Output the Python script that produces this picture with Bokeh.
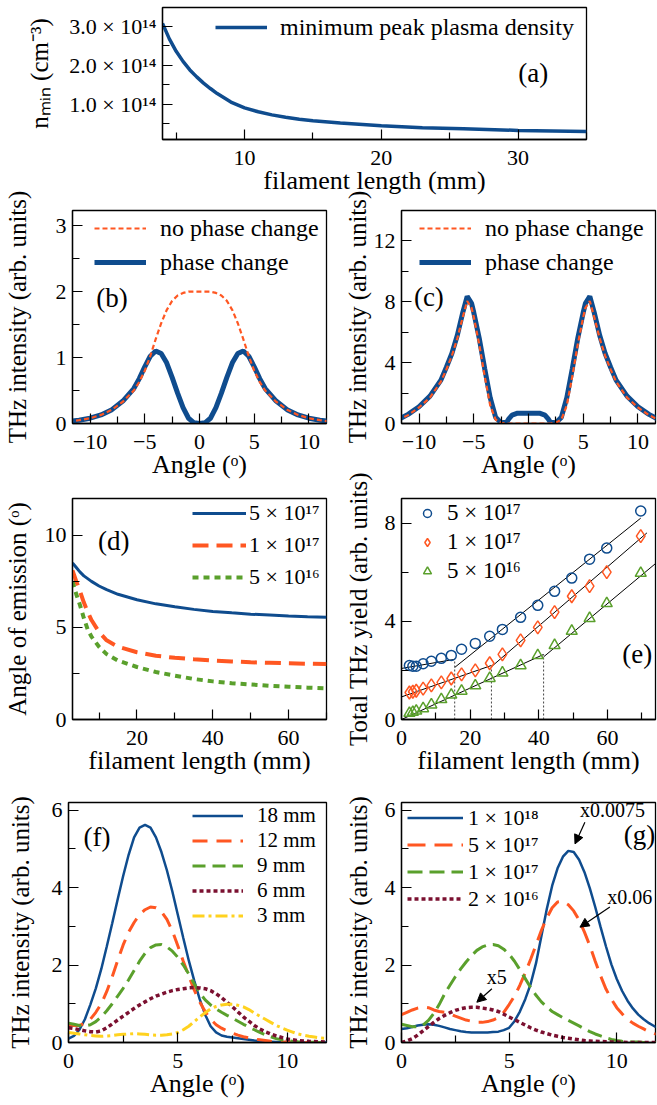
import numpy as np
from bokeh.plotting import figure
from bokeh.layouts import column, row
from bokeh.models import (Range1d, FixedTicker, CustomJSTickFormatter, Legend,
                          LegendItem, Label, Arrow, NormalHead)
from bokeh.embed import file_html
from bokeh.resources import INLINE

FONT = "Liberation Serif"
BLUE = "#0f4c8e"
ORANGE = "#ff5722"
GREEN = "#5aa02c"
MAROON = "#7b1030"
GOLD = "#ffd21f"

# ---------------- data ----------------
# (a) minimum peak plasma density vs filament length
a_length = [4.0, 4.5, 5.0, 5.5, 6.0, 6.5, 7.0, 7.5, 8.0, 9.0, 10, 11, 12, 13, 14,
            15, 17, 20, 23, 26, 30, 35]
a_nmin = [3.08e14, 2.68e14, 2.36e14, 2.10e14, 1.88e14, 1.70e14, 1.54e14, 1.40e14,
          1.27e14, 1.05e14, 0.90e14, 0.80e14, 0.72e14, 0.66e14, 0.61e14, 0.57e14,
          0.51e14, 0.44e14, 0.39e14, 0.36e14, 0.32e14, 0.29e14]

# (b) angular THz distribution
b_angle = [-12, -11, -10, -9, -8, -7, -6, -5.5, -5, -4.5, -4, -3.5, -3, -2.5, -2, -1.5,
           -1, -0.5, 0, 0.5, 1, 1.5, 2, 2.5, 3, 3.5, 4, 4.5, 5, 5.5, 6, 7, 8, 9, 10, 11, 12]
b_no_change = [0.03, 0.05, 0.08, 0.13, 0.21, 0.33, 0.50, 0.63, 0.80, 1.02, 1.28, 1.52,
               1.72, 1.86, 1.94, 1.98, 2.0, 2.0, 2.0, 2.0, 2.0, 1.98, 1.94, 1.86, 1.72,
               1.52, 1.28, 1.02, 0.80, 0.63, 0.50, 0.33, 0.21, 0.13, 0.08, 0.05, 0.03]
b_phase = [0.03, 0.05, 0.08, 0.13, 0.21, 0.34, 0.53, 0.68, 0.86, 1.02, 1.10, 1.06, 0.92,
           0.70, 0.46, 0.24, 0.08, 0.01, 0.0, 0.01, 0.08, 0.24, 0.46, 0.70, 0.92, 1.06,
           1.10, 1.02, 0.86, 0.68, 0.53, 0.34, 0.21, 0.13, 0.08, 0.05, 0.03]

# (c)
c_angle = [-12, -11, -10, -9, -8, -7.5, -7, -6.5, -6, -5.6, -5.2, -5, -4.5, -4, -3.5, -3,
           -2.5, -2, -1.8, -1.5, -1, -0.5, 0, 0.5, 1, 1.5, 1.8, 2, 2.5, 3, 3.5, 4, 4.5,
           5, 5.2, 5.6, 6, 6.5, 7, 7.5, 8, 9, 10, 11, 12]
c_phase = [0.22, 0.6, 1.1, 1.8, 2.85, 3.7, 4.6, 5.8, 7.3, 8.35, 7.9, 7.3, 5.6, 3.6, 1.7,
           0.4, 0.05, 0.08, 0.3, 0.55, 0.68, 0.68, 0.68, 0.68, 0.68, 0.55, 0.3, 0.08,
           0.05, 0.4, 1.7, 3.6, 5.6, 7.3, 7.9, 8.35, 7.3, 5.8, 4.6, 3.7, 2.85, 1.8, 1.1,
           0.6, 0.22]
c_no_change = [0.2, 0.55, 1.05, 1.7, 2.75, 3.55, 4.45, 5.6, 7.0, 8.05, 7.6, 7.0, 5.2,
               3.1, 1.2, 0.25, 0.05, 0.0, 0.0, 0.0, 0.0, 0.0, 0.0, 0.0, 0.0, 0.0, 0.0,
               0.0, 0.05, 0.25, 1.2, 3.1, 5.2, 7.0, 7.6, 8.05, 7.0, 5.6, 4.45, 3.55,
               2.75, 1.7, 1.05, 0.55, 0.2]

# (d) angle of emission vs filament length
d_length = [3, 4, 5, 6, 7, 8, 10, 12, 15, 20, 25, 30, 35, 40, 45, 50, 55, 60, 65, 70]
d_5e17 = [8.5, 8.25, 8.0, 7.8, 7.65, 7.5, 7.25, 7.05, 6.8, 6.5, 6.28, 6.12, 5.98, 5.87,
          5.79, 5.72, 5.67, 5.62, 5.58, 5.55]
d_1e17 = [8.1, 7.5, 6.95, 6.35, 5.85, 5.4, 4.75, 4.3, 3.95, 3.65, 3.46, 3.35, 3.27, 3.2,
          3.15, 3.11, 3.08, 3.05, 3.03, 3.01]
d_5e16 = [7.5, 6.8, 6.2, 5.5, 4.9, 4.5, 3.95, 3.55, 3.2, 2.85, 2.58, 2.38, 2.2, 2.07,
          1.97, 1.9, 1.83, 1.78, 1.73, 1.69]

# (e) total THz yield vs filament length
e_length = [2.3, 3.3, 4.3, 6.3, 8.7, 11.6, 14.5, 17.5, 21.5, 25.7, 29.4, 34.7, 39.7,
            44.6, 49.6, 54.8, 59.8, 69.7]
e_5e17 = [2.2, 2.17, 2.17, 2.27, 2.37, 2.49, 2.61, 2.86, 3.1, 3.39, 3.67, 4.16, 4.65,
          5.22, 5.76, 6.53, 6.98, 8.49]
e_1e17 = [1.1, 1.13, 1.17, 1.26, 1.39, 1.51, 1.67, 1.84, 2.0, 2.29, 2.65, 3.22, 3.75,
          4.37, 5.02, 5.43, 6.0, 7.47]
e_5e16 = [0.26, 0.3, 0.35, 0.45, 0.6, 0.82, 1.0, 1.16, 1.38, 1.68, 1.9, 2.2, 2.61, 3.02,
          3.6, 4.12, 4.73, 5.96]
# piecewise linear fits (x0, y0, x1, y1) and the kink positions
fit_x0 = [0, 15.5, 0, 26.2, 0, 41.4]
fit_y0 = [2.08, 2.12, 0.92, 2.15, 0.0, 2.55]
fit_x1 = [15.5, 69.7, 26.2, 71.5, 41.4, 74]
fit_y1 = [2.45, 8.2, 2.2, 7.6, 2.65, 6.35]
kink_x = [15.5, 26.2, 41.4]
kink_y = [2.45, 2.2, 2.65]

# (f) angular distribution for different filament lengths (angles 0 ... 12 step 0.25)
f_angle = [round(0.25 * i, 2) for i in range(49)]
f_18mm = [0.1, 0.17, 0.33, 0.6, 0.98, 1.4, 1.9, 2.48, 3.08, 3.7, 4.3, 4.85, 5.3, 5.55,
          5.62, 5.55, 5.3, 4.92, 4.45, 3.9, 3.3, 2.7, 2.12, 1.6, 1.12, 0.72, 0.42, 0.26,
          0.18, 0.15, 0.13, 0.11, 0.09, 0.07, 0.05, 0.04, 0.03, 0.02, 0.01, 0.01,
          0, 0, 0, 0, 0, 0, 0, 0, 0]
f_12mm = [0.45, 0.44, 0.44, 0.5, 0.6, 0.78, 1.0, 1.32, 1.7, 2.12, 2.52, 2.85, 3.1, 3.3,
          3.43, 3.5, 3.48, 3.38, 3.18, 2.88, 2.5, 2.1, 1.72, 1.36, 1.05, 0.8, 0.6, 0.46,
          0.37, 0.3, 0.24, 0.19, 0.15, 0.12, 0.09, 0.07, 0.05, 0.03, 0.02, 0.015, 0.01,
          0.005, 0, 0, 0, 0, 0, 0, 0]
f_9mm = [0.5, 0.47, 0.44, 0.43, 0.46, 0.54, 0.66, 0.82, 1.0, 1.2, 1.4, 1.62, 1.86, 2.1,
         2.3, 2.45, 2.52, 2.53, 2.47, 2.36, 2.2, 2.0, 1.77, 1.52, 1.28, 1.1, 0.97, 0.87,
         0.78, 0.7, 0.63, 0.55, 0.47, 0.4, 0.33, 0.26, 0.2, 0.15, 0.1, 0.07, 0.05, 0.03,
         0.02, 0.015, 0.01, 0.005, 0, 0, 0]
f_6mm = [0.38, 0.36, 0.33, 0.3, 0.28, 0.27, 0.3, 0.38, 0.48, 0.58, 0.68, 0.78, 0.88, 0.97,
         1.05, 1.13, 1.2, 1.25, 1.3, 1.34, 1.37, 1.39, 1.41, 1.42, 1.41, 1.39, 1.34, 1.26,
         1.16, 1.04, 0.92, 0.79, 0.66, 0.55, 0.44, 0.35, 0.28, 0.22, 0.17, 0.13, 0.09,
         0.07, 0.05, 0.04, 0.03, 0.025, 0.02, 0.015, 0.01]
f_3mm = [0.26, 0.24, 0.22, 0.2, 0.18, 0.17, 0.16, 0.17, 0.18, 0.2, 0.21, 0.22, 0.23, 0.22,
         0.21, 0.2, 0.19, 0.19, 0.2, 0.22, 0.26, 0.33, 0.42, 0.54, 0.66, 0.77, 0.87, 0.93,
         0.97, 0.99, 0.99, 0.96, 0.92, 0.85, 0.76, 0.68, 0.6, 0.52, 0.44, 0.38, 0.32,
         0.27, 0.22, 0.19, 0.16, 0.14, 0.12, 0.11, 0.1]

# (g) angular distribution for different densities (scaled curves)
g_angle = [round(0.25 * i, 2) for i in range(49)]
g_1e18 = [0.35, 0.37, 0.4, 0.44, 0.46, 0.47, 0.46, 0.43, 0.39, 0.35, 0.32, 0.29, 0.27,
          0.26, 0.26, 0.26, 0.26, 0.27, 0.28, 0.32, 0.38, 0.55, 0.8, 1.12, 1.51, 2.05,
          2.75, 3.45, 4.05, 4.5, 4.8, 4.95, 4.92, 4.72, 4.4, 3.98, 3.5, 2.98, 2.48, 2.02,
          1.64, 1.33, 1.08, 0.88, 0.72, 0.6, 0.5, 0.42, 0.36]
g_5e17 = [0.72, 0.78, 0.84, 0.89, 0.92, 0.9, 0.84, 0.8, 0.78, 0.74, 0.68, 0.63, 0.58,
          0.55, 0.52, 0.52, 0.54, 0.58, 0.64, 0.78, 0.98, 1.2, 1.48, 1.8, 2.15, 2.52, 2.9,
          3.22, 3.48, 3.63, 3.65, 3.56, 3.4, 3.16, 2.85, 2.5, 2.1, 1.72, 1.38, 1.12, 0.9,
          0.74, 0.6, 0.5, 0.42, 0.35, 0.28, 0.23, 0.2]
g_1e17 = [0.47, 0.44, 0.41, 0.41, 0.45, 0.57, 0.75, 0.98, 1.25, 1.48, 1.7, 1.9, 2.08,
          2.24, 2.38, 2.47, 2.52, 2.53, 2.5, 2.41, 2.28, 2.1, 1.88, 1.65, 1.42, 1.22, 1.05,
          0.92, 0.8, 0.72, 0.64, 0.57, 0.5, 0.43, 0.35, 0.28, 0.22, 0.17, 0.12, 0.08,
          0.05, 0.03, 0.02, 0.01, 0.01, 0, 0, 0, 0]
g_2e16 = [0.0, 0.04, 0.1, 0.19, 0.3, 0.41, 0.52, 0.62, 0.7, 0.77, 0.83, 0.87, 0.9, 0.91,
          0.91, 0.89, 0.87, 0.84, 0.8, 0.73, 0.66, 0.59, 0.52, 0.45, 0.38, 0.32, 0.27,
          0.23, 0.19, 0.16, 0.13, 0.11, 0.09, 0.07, 0.05, 0.04, 0.03, 0.025, 0.02, 0.015,
          0.01, 0.005, 0, 0, 0, 0, 0, 0, 0]

DEG = "Angle (\u1d52)"
FL = "filament length (mm)"
THZ = "THz intensity (arb. units)"


def make_fig(w, h, xr, yr, bl, br, bt, bb, xt, xmt, yt, ymt, xlabel, ylabel, yals,
             xfmt=None, yfmt=None):
    p = figure(width=w, height=h, x_range=Range1d(*xr), y_range=Range1d(*yr),
               output_backend="svg", toolbar_location=None,
               min_border_left=bl, min_border_right=br, min_border_top=bt,
               min_border_bottom=bb)
    p.xgrid.visible = False
    p.ygrid.visible = False
    p.outline_line_color = "black"
    p.outline_line_width = 1.3
    p.outline_line_alpha = 1
    p.background_fill_color = "white"
    p.border_fill_alpha = 0
    for ax, ticks, mticks, label, als, fmt, lsize, std in (
            (p.xaxis[0], xt, xmt, xlabel, -2, xfmt, "26px", 11),
            (p.yaxis[0], yt, ymt, ylabel, yals, yfmt, "25px", 6)):
        ax.ticker = FixedTicker(ticks=ticks, minor_ticks=mticks)
        if fmt is not None:
            ax.formatter = fmt
        ax.axis_label = label
        ax.axis_label_text_font = FONT
        ax.axis_label_text_font_size = lsize
        ax.axis_label_text_font_style = "normal"
        ax.axis_label_text_color = "black"
        ax.axis_label_standoff = als
        ax.major_label_text_font = FONT
        ax.major_label_text_font_size = "22px"
        ax.major_label_text_color = "black"
        ax.major_label_standoff = std
        ax.major_tick_in = 10
        ax.major_tick_out = 0
        ax.minor_tick_in = 7
        ax.minor_tick_out = 0
        ax.axis_line_color = "black"
        ax.axis_line_width = 1.3
        ax.major_tick_line_color = "black"
        ax.minor_tick_line_color = "black"
        ax.major_tick_line_width = 1.2
        ax.minor_tick_line_width = 1.2
    return p


def add_legend(p, items, loc, fsize, gw, standoff, ih, spacing):
    leg = Legend(items=items, location=loc)
    leg.label_text_font = FONT
    leg.label_text_font_size = fsize
    leg.label_text_color = "black"
    leg.glyph_width = gw
    leg.glyph_height = ih
    leg.label_height = ih
    leg.label_standoff = standoff
    leg.spacing = spacing
    leg.padding = 0
    leg.margin = 0
    leg.background_fill_alpha = 0
    leg.border_line_alpha = 0
    p.add_layout(leg)


def panel_label(p, x, y, text, size="27px"):
    p.add_layout(Label(x=x, y=y, text=text, text_font=FONT, text_font_size=size,
                       text_align="center", text_baseline="middle", text_color="black"))


minus_fmt = CustomJSTickFormatter(code="return tick < 0 ? '\\u2212' + Math.abs(tick) : String(tick);")
sci_fmt = CustomJSTickFormatter(code="return (tick/1e14).toFixed(1) + ' \u00d7 10\u00b9\u2074';")

LW, RW = 330, 327          # left / right column widths (total 657)

# ---------------- (a) ----------------
pa = make_fig(657, 203, (4, 35), (0.085e14, 3.49e14), 162, 71, 7, 64,
              [10, 20, 30], [5, 15, 25, 35],
              [1e14, 2e14, 3e14], [0.5e14, 1.5e14, 2.5e14],
              FL, "n\u2098\u1d62\u2099 (cm\u207b\u00b3)", 13, yfmt=sci_fmt)
pa.border_fill_alpha = 1
pa.border_fill_color = "white"
ra = pa.line(a_length, a_nmin, line_color=BLUE, line_width=3.5)
add_legend(pa, [LegendItem(label="minimum peak plasma density", renderers=[ra])],
           (53, 97), "24px", 52, 13, 30, 0)
panel_label(pa, 31.1, 1.8e14, "(a)")

# ---------------- (b) ----------------
pb = make_fig(LW, 299, (-11.6, 11.6), (0, 3.23), 68, 4, 22, 64,
              [-10, -5, 0, 5, 10], [-7.5, -2.5, 2.5, 7.5],
              [0, 1, 2, 3], [0.5, 1.5, 2.5], DEG, THZ, 22, xfmt=minus_fmt)
rb1 = pb.line(b_angle, b_phase, line_color=BLUE, line_width=5)
rb0 = pb.line(b_angle, b_no_change, line_color=ORANGE, line_width=2.2, line_dash="5 3")
add_legend(pb, [LegendItem(label="no phase change", renderers=[rb0]),
                LegendItem(label="phase change", renderers=[rb1])],
           (22, 146), "24px", 52, 14, 30, 4)
panel_label(pb, -8.0, 1.9, "(b)")

# ---------------- (c) ----------------
pc = make_fig(RW, 299, (-11.6, 11.6), (0, 14), 71, 2, 22, 64,
              [-10, -5, 0, 5, 10], [-7.5, -2.5, 2.5, 7.5],
              [0, 4, 8, 12], [2, 6, 10], DEG, THZ, 0, xfmt=minus_fmt)
rc1 = pc.line(c_angle, c_phase, line_color=BLUE, line_width=5)
rc0 = pc.line(c_angle, c_no_change, line_color=ORANGE, line_width=2.2, line_dash="5 3")
add_legend(pc, [LegendItem(label="no phase change", renderers=[rc0]),
                LegendItem(label="phase change", renderers=[rc1])],
           (18, 146), "24px", 52, 14, 30, 4)
panel_label(pc, -9.1, 8.3, "(c)")

# ---------------- (d) ----------------
pd_ = make_fig(LW, 315, (3, 70), (0, 12), 68, 4, 30, 64,
               [20, 40, 60], [10, 30, 50, 70],
               [0, 5, 10], [2.5, 7.5], FL, "Angle of emission (\u1d52)", 11)
rd1 = pd_.line(d_length, d_5e17, line_color=BLUE, line_width=3)
rd2 = pd_.line(d_length, d_1e17, line_color=ORANGE, line_width=4, line_dash="16 8")
rd3 = pd_.line(d_length, d_5e16, line_color=GREEN, line_width=4, line_dash="6 5")
add_legend(pd_, [LegendItem(label="5 \u00d7 10\u00b9\u2077", renderers=[rd1]),
                 LegendItem(label="1 \u00d7 10\u00b9\u2077", renderers=[rd2]),
                 LegendItem(label="5 \u00d7 10\u00b9\u2076", renderers=[rd3])],
           (120, 127), "22px", 54, 3, 30, 2)
panel_label(pd_, 13.9, 9.7, "(d)")

# ---------------- (e) ----------------
pe = make_fig(RW, 315, (0, 74), (0, 9), 71, 2, 30, 64,
              [0, 20, 40, 60], [10, 30, 50, 70],
              [0, 4, 8], [2, 6], FL, "Total THz yield (arb. units)", 10)
pe.segment(fit_x0, fit_y0, fit_x1, fit_y1, line_color="black", line_width=1)
pe.segment(kink_x, [0, 0, 0], kink_x, kink_y, line_color="#444444", line_width=1,
           line_dash="2 2")
re1 = pe.scatter(e_length, e_5e17, marker="circle", size=10, fill_alpha=0,
                 line_color=BLUE, line_width=1.5)
re2 = pe.scatter(e_length, e_1e17, marker="diamond", size=13, fill_alpha=0,
                 line_color=ORANGE, line_width=1.5)
re3 = pe.scatter(e_length, e_5e16, marker="triangle", size=11, fill_alpha=0,
                 line_color=GREEN, line_width=1.5)
add_legend(pe, [LegendItem(label="5 \u00d7 10\u00b9\u2077", renderers=[re1]),
                LegendItem(label="1 \u00d7 10\u00b9\u2077", renderers=[re2]),
                LegendItem(label="5 \u00d7 10\u00b9\u2076", renderers=[re3])],
           (16, 134), "23px", 20, 10, 28, 1)
panel_label(pe, 68.7, 2.67, "(e)")

# ---------------- (f) ----------------
pf = make_fig(LW, 321, (0, 11.8), (0, 6.2), 68, 4, 19, 62,
              [0, 5, 10], [2.5, 7.5],
              [0, 2, 4, 6], [1, 3, 5], DEG, THZ, 15)
rf1 = pf.line(f_angle, f_18mm, line_color=BLUE, line_width=2.5)
rf2 = pf.line(f_angle, f_12mm, line_color=ORANGE, line_width=3, line_dash="15 9")
rf3 = pf.line(f_angle, f_9mm, line_color=GREEN, line_width=3, line_dash="13 7")
rf4 = pf.line(f_angle, f_6mm, line_color=MAROON, line_width=3.5, line_dash="4 3")
rf5 = pf.line(f_angle, f_3mm, line_color=GOLD, line_width=3, line_dash="12 4 3 4")
add_legend(pf, [LegendItem(label="18 mm", renderers=[rf1]),
                LegendItem(label="12 mm", renderers=[rf2]),
                LegendItem(label="9 mm", renderers=[rf3]),
                LegendItem(label="6 mm", renderers=[rf4]),
                LegendItem(label="3 mm", renderers=[rf5])],
           (124, 114), "21px", 51, 14, 25, 0)
panel_label(pf, 1.3, 5.3, "(f)")

# ---------------- (g) ----------------
pg = make_fig(RW, 321, (0, 11.8), (0, 6.2), 71, 2, 19, 62,
              [0, 5, 10], [2.5, 7.5],
              [0, 2, 4, 6], [1, 3, 5], DEG, THZ, 10)
rg1 = pg.line(g_angle, g_1e18, line_color=BLUE, line_width=2.5)
rg2 = pg.line(g_angle, g_5e17, line_color=ORANGE, line_width=3, line_dash="18 9")
rg3 = pg.line(g_angle, g_1e17, line_color=GREEN, line_width=3, line_dash="15 7")
rg4 = pg.line(g_angle, g_2e16, line_color=MAROON, line_width=3.5, line_dash="4 3")
add_legend(pg, [LegendItem(label="1 \u00d7 10\u00b9\u2078", renderers=[rg1]),
                LegendItem(label="5 \u00d7 10\u00b9\u2077", renderers=[rg2]),
                LegendItem(label="1 \u00d7 10\u00b9\u2077", renderers=[rg3]),
                LegendItem(label="2 \u00d7 10\u00b9\u2076", renderers=[rg4])],
           (6, 130), "22px", 56, 5, 27, 0)
panel_label(pg, 11.06, 5.35, "(g)")
for tx, ty, txt, x0, y0, x1, y1 in ((9.8, 6.0, "x0.0075", 8.52, 5.69, 8.06, 5.13),
                                    (10.6, 3.75, "x0.06", 9.68, 3.5, 8.29, 2.98),
                                    (4.43, 1.69, "x5", 4.2, 1.39, 3.5, 1.04)):
    pg.add_layout(Label(x=tx, y=ty, text=txt, text_font=FONT, text_font_size="20px",
                        text_align="center", text_baseline="middle", text_color="black"))
    pg.add_layout(Arrow(end=NormalHead(size=9, fill_color="black", line_color="black",
                                       line_width=1),
                        x_start=x0, y_start=y0, x_end=x1, y_end=y1,
                        line_color="black", line_width=1.2))

layout = column(pa,
                row(pb, pc, margin=(-15, 0, 0, 0)),
                row(pd_, pe, margin=(-19, 0, 0, 0)),
                row(pf, pg))
open("out.html", "w").write(file_html(layout, INLINE))
